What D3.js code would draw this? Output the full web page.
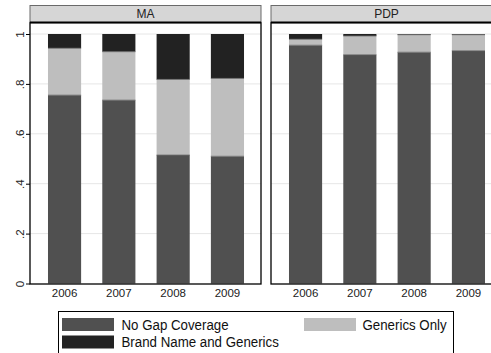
<!DOCTYPE html>
<html>
<head>
  <meta charset="utf-8">
  <title>Gap coverage, MA vs PDP</title>
  <style>
    html, body {
      margin: 0;
      padding: 0;
      background: #fff;
      overflow: hidden;
    }
    svg {
      display: block;
      font-family: Arial, "Liberation Sans", sans-serif;
    }
  </style>
</head>
<body>
  <svg id="chart" width="491" height="353"></svg>

  <script src="https://d3js.org/d3.v7.min.js"></script>
  <script>
    const years = ["2006", "2007", "2008", "2009"];
    const panels = ["MA", "PDP"];
    const seriesNames = ["No Gap Coverage", "Generics Only", "Brand Name and Generics"];
    const seriesColors = ["#505050", "#bebebe", "#222222"];

    // shares by plan type, one value per year
    const noGapMA = [0.755, 0.735, 0.515, 0.510];
    const genericsMA = [0.188, 0.194, 0.303, 0.312];
    const brandMA = [0.057, 0.071, 0.182, 0.178];
    const noGapPDP = [0.955, 0.917, 0.927, 0.933];
    const genericsPDP = [0.024, 0.075, 0.070, 0.064];
    const brandPDP = [0.021, 0.008, 0.003, 0.003];

    const yTicks = [0, 0.2, 0.4, 0.6, 0.8, 1];
    const yTickLabels = ["0", ".2", ".4", ".6", ".8", "1"];

    const panelData = {
      MA: [noGapMA, genericsMA, brandMA],
      PDP: [noGapPDP, genericsPDP, brandPDP]
    };

    const svg = d3.select("#chart");

    const panelW = 231;
    const panelLeft = [30, 271];
    const headerTop = 5.5;
    const plotTop = 22.5;
    const plotBottom = 284;

    const y = d3.scaleLinear().domain([0, 1]).range([283.5, 34]);

    panels.forEach((name, p) => {
      const x0 = panelLeft[p];
      const g = svg.append("g");

      const x = d3.scaleBand()
        .domain(years)
        .range([x0 + 7.4, x0 + panelW - 6.4])
        .paddingInner(0.39)
        .paddingOuter(0.195);

      // gridlines
      g.selectAll("line.grid")
        .data(yTicks.filter(t => t > 0))
        .enter()
        .append("line")
        .attr("x1", x0)
        .attr("x2", x0 + panelW)
        .attr("y1", d => y(d))
        .attr("y2", d => y(d))
        .attr("stroke", "#e6e6e6")
        .attr("stroke-width", 1);

      // stacked bars
      const rows = years.map((yr, i) => {
        const r = { year: yr };
        seriesNames.forEach((s, k) => r[s] = panelData[name][k][i]);
        return r;
      });
      const stacked = d3.stack().keys(seriesNames)(rows);

      stacked.forEach((layer, k) => {
        g.selectAll("rect.s" + k)
          .data(layer)
          .enter()
          .append("rect")
          .attr("x", d => x(d.data.year))
          .attr("width", x.bandwidth())
          .attr("y", d => y(d[1]))
          .attr("height", d => y(d[0]) - y(d[1]))
          .attr("fill", seriesColors[k]);
      });

      // thin separators between segments
      stacked.slice(1).forEach(layer => {
        g.selectAll(null)
          .data(layer)
          .enter()
          .append("line")
          .attr("x1", d => x(d.data.year))
          .attr("x2", d => x(d.data.year) + x.bandwidth())
          .attr("y1", d => y(d[0]))
          .attr("y2", d => y(d[0]))
          .attr("stroke", "#6e6e6e")
          .attr("stroke-width", 0.8);
      });

      // plot region frame
      g.append("rect")
        .attr("x", x0)
        .attr("y", plotTop)
        .attr("width", panelW)
        .attr("height", plotBottom - plotTop)
        .attr("fill", "none")
        .attr("stroke", "#000")
        .attr("stroke-width", 1.3);

      // strip header
      g.append("rect")
        .attr("x", x0)
        .attr("y", headerTop)
        .attr("width", panelW)
        .attr("height", plotTop - headerTop)
        .attr("fill", "#d6d6d6")
        .attr("stroke", "#6a6a6a")
        .attr("stroke-width", 1);
      g.append("line")
        .attr("x1", x0)
        .attr("x2", x0 + panelW)
        .attr("y1", plotTop)
        .attr("y2", plotTop)
        .attr("stroke", "#000")
        .attr("stroke-width", 2);
      g.append("text")
        .attr("x", x0 + panelW / 2)
        .attr("y", 17.5)
        .attr("text-anchor", "middle")
        .attr("font-size", 12)
        .attr("fill", "#222")
        .text(name);

      // x axis labels
      const xAxis = d3.axisBottom(x).tickSize(0).tickPadding(0);
      const xa = g.append("g")
        .attr("transform", `translate(0,${plotBottom})`)
        .call(xAxis);
      xa.select(".domain").remove();
      xa.selectAll("text")
        .attr("dy", 0)
        .attr("y", 12.5)
        .attr("font-size", 11.5)
        .attr("fill", "#222")
        .attr("font-family", "Arial, 'Liberation Sans', sans-serif");
    });

    // y axis (left panel only)
    const yAxis = d3.axisLeft(y)
      .tickValues(yTicks)
      .tickFormat((d, i) => yTickLabels[i])
      .tickSize(4)
      .tickPadding(6);
    const ya = svg.append("g")
      .attr("transform", `translate(${panelLeft[0]},0)`)
      .call(yAxis);
    ya.select(".domain").remove();
    ya.selectAll("line").attr("stroke", "#000");
    ya.selectAll("text")
      .attr("font-size", 11.5)
      .attr("fill", "#222")
      .attr("font-family", "Arial, 'Liberation Sans', sans-serif")
      .attr("text-anchor", "middle")
      .attr("x", 0)
      .attr("y", 0)
      .attr("dy", "0.35em")
      .attr("transform", "translate(-10,0) rotate(-90)");

    // legend
    const legend = svg.append("g");
    legend.append("rect")
      .attr("x", 58.5)
      .attr("y", 311.5)
      .attr("width", 395)
      .attr("height", 50)
      .attr("fill", "#fff")
      .attr("stroke", "#000")
      .attr("stroke-width", 1);

    const legendPos = [
      { sx: 62, sy: 318, tx: 121.5 },
      { sx: 304, sy: 318, tx: 362.5 },
      { sx: 62, sy: 335.5, tx: 121.5 }
    ];
    seriesNames.forEach((s, k) => {
      const pos = legendPos[k];
      legend.append("rect")
        .attr("x", pos.sx)
        .attr("y", pos.sy)
        .attr("width", 52)
        .attr("height", 13)
        .attr("fill", seriesColors[k]);
      legend.append("text")
        .attr("transform", `translate(${pos.tx},${pos.sy + 11.5}) scale(1,1.12)`)
        .attr("font-size", 13.3)
        .attr("fill", "#111")
        .text(s);
    });
  </script>
</body>
</html>
